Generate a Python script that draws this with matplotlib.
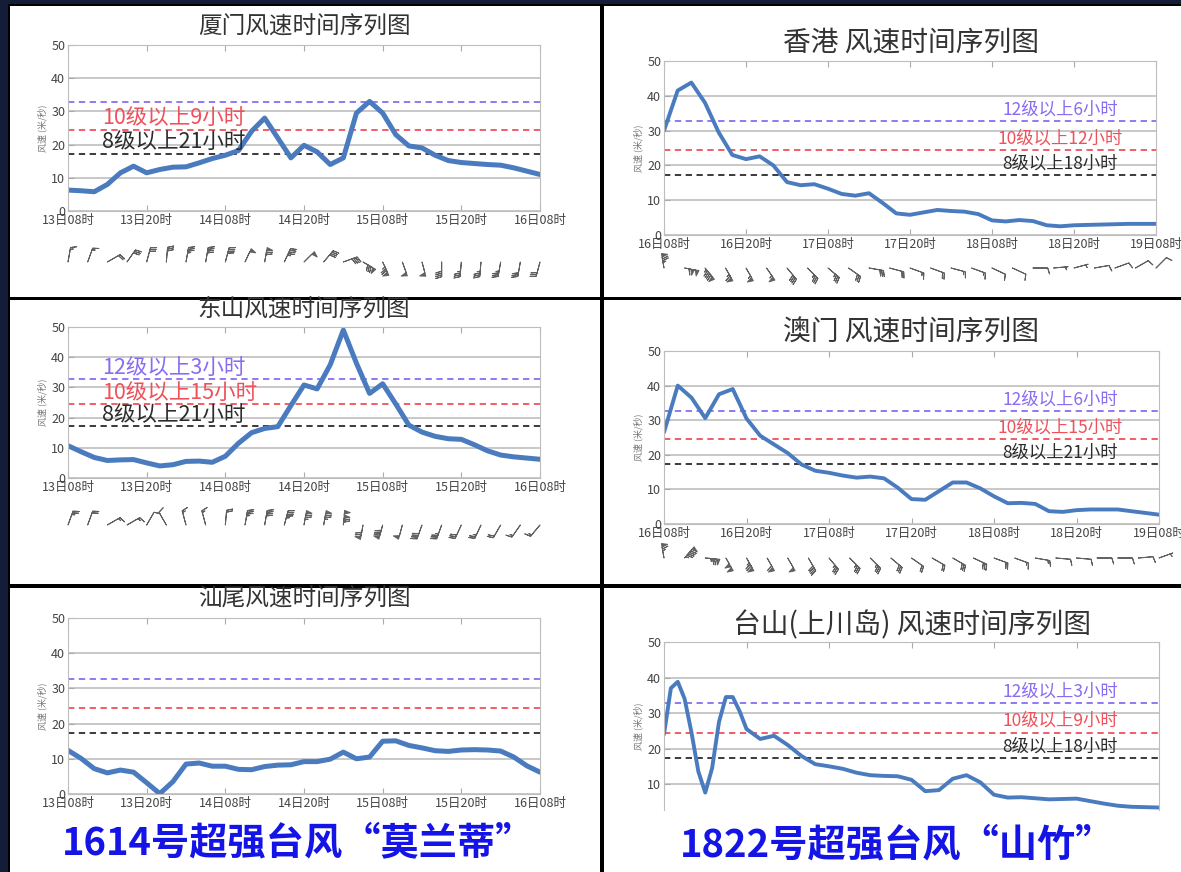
import numpy as np
import matplotlib.pyplot as plt
from matplotlib.patches import Rectangle

plt.rcParams['font.family'] = ['Noto Sans CJK SC', 'DejaVu Sans']

W, H = 1181, 872

# hours since first tick
hours = list(range(0, 73, 2))
barb_hours = list(range(0, 73, 3))
taishan_hours = list(range(0, 13)) + list(range(14, 73, 2))

ticks_1614 = ['13日08时', '13日20时', '14日08时', '14日20时', '15日08时', '15日20时', '16日08时']
ticks_1822 = ['16日08时', '16日20时', '17日08时', '17日20时', '18日08时', '18日20时', '19日08时']

# wind speed (m/s)
xiamen = [6.3, 6.1, 5.8, 8.0, 11.5, 13.5, 11.5, 12.5, 13.2, 13.3, 14.5, 15.8, 16.8,
          18.2, 24.0, 28.0, 22.0, 16.0, 19.8, 17.8, 14.0, 16.0, 29.5, 33.0, 29.5,
          23.0, 19.6, 19.0, 16.8, 15.2, 14.6, 14.3, 14.0, 13.8, 13.0, 12.0, 11.0]
dongshan = [10.7, 8.7, 6.8, 5.8, 6.0, 6.1, 5.0, 4.0, 4.4, 5.5, 5.6, 5.2, 7.2,
            11.5, 15.0, 16.4, 17.0, 24.0, 30.8, 29.5, 37.5, 49.0, 38.0, 28.0, 31.2,
            24.5, 17.5, 15.2, 13.8, 13.0, 12.8, 11.0, 9.0, 7.6, 7.0, 6.6, 6.2]
shanwei = [12.4, 10.1, 7.2, 6.0, 6.8, 6.2, 3.2, 0.1, 3.5, 8.5, 8.8, 7.9, 7.9,
           7.0, 6.9, 7.8, 8.2, 8.3, 9.2, 9.2, 9.9, 11.9, 10.0, 10.5, 15.0,
           15.1, 13.8, 13.1, 12.3, 12.1, 12.5, 12.6, 12.5, 12.2, 10.5, 8.0, 6.2]
hongkong = [30.0, 41.5, 43.8, 38.0, 29.5, 23.0, 21.8, 22.6, 20.0, 15.2, 14.3, 14.6, 13.3,
            11.8, 11.3, 12.0, 9.2, 6.2, 5.8, 6.5, 7.2, 6.9, 6.7, 6.0, 4.2,
            3.9, 4.3, 4.0, 2.8, 2.5, 2.8, 2.9, 3.0, 3.1, 3.2, 3.2, 3.2]
macau = [26.5, 40.0, 36.5, 30.6, 37.5, 39.0, 30.5, 25.5, 23.0, 20.5, 17.2, 15.4, 14.8,
         14.0, 13.4, 13.7, 13.2, 10.5, 7.2, 7.0, 9.5, 12.0, 12.0, 10.3, 8.0,
         6.0, 6.1, 5.8, 3.7, 3.5, 4.0, 4.2, 4.2, 4.2, 3.7, 3.2, 2.7]
taishan = [24.0, 37.0, 38.8, 34.0, 24.5, 13.5, 7.6, 14.5, 27.5, 34.5, 34.5, 30.5, 25.5,
           22.7, 23.6, 21.0, 17.9, 15.6, 15.0, 14.3, 13.2, 12.5, 12.3, 12.2, 11.2,
           8.0, 8.3, 11.5, 12.5, 10.5, 7.0, 6.2, 6.3, 6.0, 5.7, 5.8, 5.9,
           5.2, 4.5, 3.9, 3.6, 3.5, 3.4]

# wind barbs every 3 h: direction (deg, from) and speed
xiamen_dir = [10, 20, 60, 35, 15, 5, 10, 10, 15, 25, 10, 25, 45, 40, 70, 120,
              155, 160, 165, 180, 185, 185, 190, 190, 195]
xiamen_bspd = [6.3, 5.9, 8.0, 13.0, 11.5, 13.0, 13.3, 15.2, 16.8, 20.5, 28.0, 18.5, 19.8,
               15.5, 16.0, 32.0, 29.5, 21.0, 19.0, 16.0, 14.6, 14.2, 13.8, 12.5, 11.0]
dongshan_dir = [20, 20, 60, 60, 30, 330, 345, 345, 5, 10, 10, 15, 10, 10, 5, 190,
                195, 195, 200, 200, 205, 205, 210, 215, 220]
dongshan_bspd = [10.7, 7.8, 5.8, 6.2, 5.0, 4.0, 5.5, 5.4, 7.2, 13.5, 16.4, 18.5, 30.8,
                 31.0, 49.0, 28.0, 31.2, 21.0, 15.2, 13.4, 12.8, 10.0, 7.6, 6.8, 6.2]
hongkong_dir = [350, 100, 140, 150, 150, 145, 140, 135, 130, 125, 100, 105, 110,
                110, 105, 110, 115, 115, 90, 85, 75, 80, 70, 60, 45]
hongkong_bspd = [30.0, 44.0, 38.0, 26.0, 21.8, 21.5, 15.2, 14.5, 13.3, 11.2, 12.0, 7.5, 5.8,
                 7.0, 6.8, 6.5, 4.2, 4.1, 4.0, 2.5, 2.8, 3.0, 3.1, 3.2, 3.2]
macau_dir = [350, 40, 95, 150, 150, 150, 150, 150, 140, 135, 135, 130, 125,
             120, 120, 115, 110, 110, 100, 95, 95, 90, 90, 85, 70]
macau_bspd = [26.5, 38.0, 30.6, 39.5, 30.5, 24.0, 20.5, 16.0, 14.8, 13.6, 13.7, 12.0, 7.2,
              8.0, 12.0, 11.2, 8.0, 6.0, 5.8, 3.5, 4.0, 4.2, 4.2, 3.5, 2.7]

lvl12, lvl10, lvl8 = 32.7, 24.5, 17.2
c12, c10, c8 = '#8a6cf2', '#f0505a', '#2b2b2b'
line_c = '#4a7bbf'

fig = plt.figure(figsize=(W / 100, H / 100), dpi=100, facecolor='#131d38')


def box(x0, y0, x1, y1, color):
    fig.patches.append(Rectangle((x0 / W, 1 - y1 / H), (x1 - x0) / W, (y1 - y0) / H,
                                 transform=fig.transFigure, facecolor=color,
                                 edgecolor='none', zorder=-10))


# black frames and white panels
box(8, 4, W, H, 'black')
for (x0, x1) in [(10, 600), (604, W)]:
    for (y0, y1) in [(6, 297), (300, 584), (588, H)]:
        box(x0, y0, x1, y1, 'white')


def px_axes(x0, x1, ytop, ybot):
    return fig.add_axes([x0 / W, 1 - ybot / H, (x1 - x0) / W, (ybot - ytop) / H])


def panel(rect, hrs, spd, ticklabels, labels, lw, ymin=0, label_x=0.072,
          label_ha='left', label_fs=15.5, show_x=True):
    ax = px_axes(*rect)
    ax.set_xlim(0, 72)
    ax.set_ylim(ymin, 50)
    ax.set_yticks([0, 10, 20, 30, 40, 50] if ymin == 0 else [10, 20, 30, 40, 50])
    ax.set_xticks(range(0, 73, 12))
    ax.grid(axis='y', color='#c4c4c4', linewidth=1.3)
    ax.set_axisbelow(True)
    for s in ax.spines.values():
        s.set_color('#bdbdbd')
    ax.tick_params(direction='in', length=4, color='#aaaaaa', labelsize=9,
                   labelcolor='#444444', top=True, right=False, pad=2)
    if show_x:
        ax.set_xticklabels(ticklabels)
    else:
        ax.spines['bottom'].set_visible(False)
        ax.tick_params(axis='x', bottom=False, labelbottom=False)
    ax.set_ylabel('风速 (米/秒)', fontsize=6.5, color='#777777', labelpad=3)
    for thr, c in [(lvl12, c12), (lvl10, c10), (lvl8, c8)]:
        ax.axhline(thr, color=c, linewidth=1.3, linestyle=(0, (3.5, 2.5)))
    ax.plot(hrs, spd, color=line_c, linewidth=lw, solid_capstyle='round',
            solid_joinstyle='round')
    for text, c, thr in labels:
        ax.text(label_x, thr + 3.3, text, color=c, fontsize=label_fs, ha=label_ha,
                va='center', transform=ax.get_yaxis_transform())
    return ax


def barb_row(x0, x1, base, dirs, bspd):
    bax = px_axes(x0, x1, base - 25, base + 25)
    bax.set_xlim(0, 72)
    bax.set_ylim(-1, 1)
    bax.axis('off')
    d = np.radians(dirs)
    s = np.array(bspd)
    u = -s * np.sin(d)
    v = -s * np.cos(d)
    bax.barbs(barb_hours, np.zeros(len(barb_hours)), u, v, length=4.6,
              barb_increments=dict(half=2, full=4, flag=20), color='#606060',
              linewidth=0.7, clip_on=False)


# left column: 1614 Meranti
panel((68, 540, 45, 211), hours, xiamen, ticks_1614,
      [('10级以上9小时', c10, lvl10), ('8级以上21小时', c8, lvl8)], 3.6)
barb_row(68, 540, 262, xiamen_dir, xiamen_bspd)
panel((68, 540, 327, 478), hours, dongshan, ticks_1614,
      [('12级以上3小时', c12, lvl12), ('10级以上15小时', c10, lvl10),
       ('8级以上21小时', c8, lvl8)], 3.6)
barb_row(68, 540, 525, dongshan_dir, dongshan_bspd)
panel((68, 540, 618, 794), hours, shanwei, ticks_1614, [], 3.6)

# right column: 1822 Mangkhut
panel((664, 1156, 61, 235), hours, hongkong, ticks_1822,
      [('12级以上6小时', c12, lvl12), ('10级以上12小时', c10, lvl10),
       ('8级以上18小时', c8, lvl8)], 2.8, label_x=0.805, label_ha='center', label_fs=12.5)
barb_row(664, 1156, 268, hongkong_dir, hongkong_bspd)
panel((664, 1159, 351, 524), hours, macau, ticks_1822,
      [('12级以上6小时', c12, lvl12), ('10级以上15小时', c10, lvl10),
       ('8级以上21小时', c8, lvl8)], 2.8, label_x=0.8, label_ha='center', label_fs=12.5)
barb_row(664, 1159, 558, macau_dir, macau_bspd)
panel((664, 1159, 642, 810), taishan_hours, taishan, ticks_1822,
      [('12级以上3小时', c12, lvl12), ('10级以上9小时', c10, lvl10),
       ('8级以上18小时', c8, lvl8)], 2.8, ymin=2.7, label_x=0.8, label_ha='center',
      label_fs=12.5, show_x=False)

# titles
titles = [('厦门风速时间序列图', 304, 27, 17), ('东山风速时间序列图', 304, 309, 17),
          ('汕尾风速时间序列图', 304, 599, 17), ('香港 风速时间序列图', 911, 43, 20),
          ('澳门 风速时间序列图', 911, 333, 20), ('台山(上川岛) 风速时间序列图', 912, 625, 20)]
for t, x, y, fs in titles:
    fig.text(x / W, 1 - y / H, t, ha='center', va='center', fontsize=fs, color='#333333')

fig.text(298 / W, 1 - 843 / H, '1614号超强台风“莫兰蒂”', ha='center', va='center',
         fontsize=27.5, fontweight='heavy', color='#1414e6')
fig.text(897 / W, 1 - 845 / H, '1822号超强台风“山竹”', ha='center', va='center',
         fontsize=27.5, fontweight='heavy', color='#1414e6')

fig.savefig('out.png', dpi=100, facecolor=fig.get_facecolor())
